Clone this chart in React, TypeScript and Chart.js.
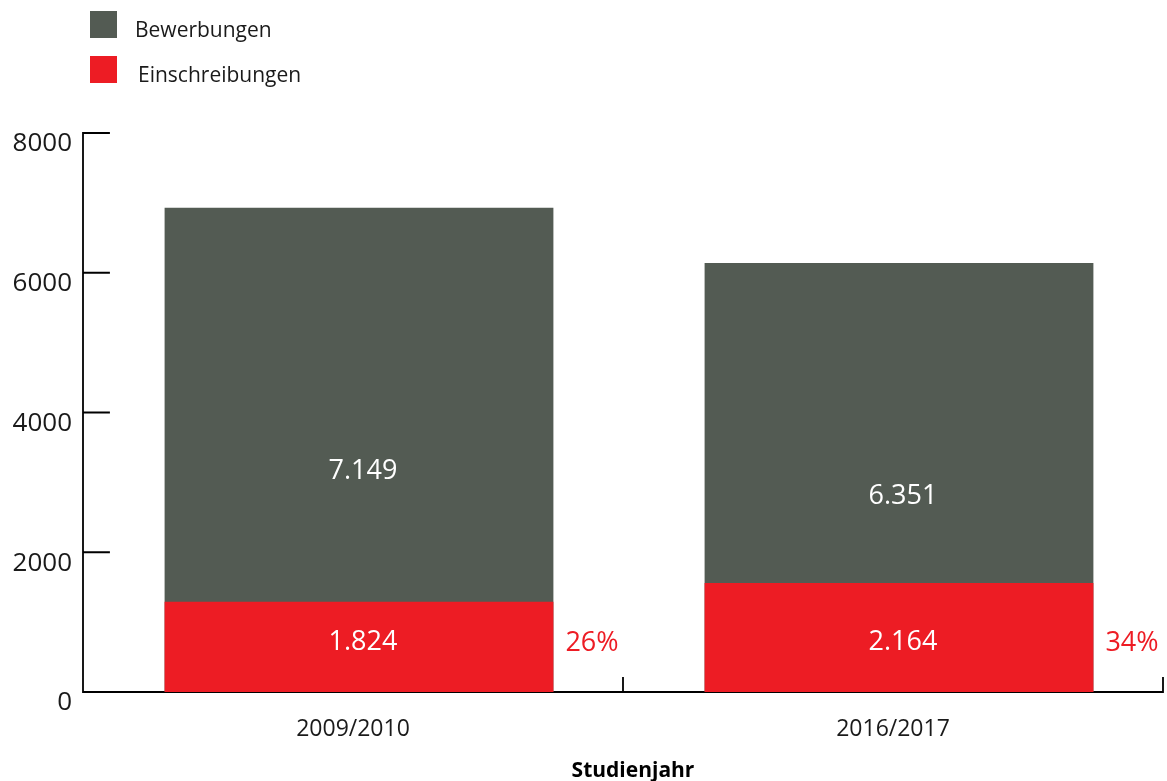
import React, { useEffect, useRef } from 'react';
import { Chart, registerables } from 'chart.js';

Chart.register(...registerables);

const categories = ['2009/2010', '2016/2017'];
const seriesNames = ['Bewerbungen', 'Einschreibungen'];
const bewerbungen = [6930, 6140];
const einschreibungen = [1290, 1560];
const bewerbungenLabels = ['7.149', '6.351'];
const einschreibungenLabels = ['1.824', '2.164'];
const quoteLabels = ['26%', '34%'];
const yMin = 0;
const yMax = 8000;
const yStep = 2000;
const axisTitle = 'Studienjahr';

const GRAY = '#535b53';
const RED = '#ed1c24';
const TEXT = '#1a1a1a';
const FONT = '"Open Sans", "Noto Sans", sans-serif';
const BAR_SHIFT = 6;

const customPlugin = {
  id: 'customDecor',
  beforeDatasetsDraw(chart: any) {
    const { ctx, chartArea: a, scales } = chart;
    const y = scales.y;
    ctx.save();
    ctx.strokeStyle = '#000';
    ctx.lineWidth = 1.8;
    ctx.lineCap = 'square';
    ctx.beginPath();
    ctx.moveTo(a.left, a.top);
    ctx.lineTo(a.left, a.bottom);
    ctx.lineTo(a.right, a.bottom);
    y.ticks.forEach((t: any) => {
      const py = y.getPixelForValue(t.value);
      ctx.moveTo(a.left, py);
      ctx.lineTo(a.left + 26, py);
    });
    const n = categories.length;
    const cw = (a.right - a.left) / n;
    for (let i = 0; i <= n; i++) {
      const px = a.left + i * cw;
      ctx.moveTo(px, a.bottom);
      ctx.lineTo(px, a.bottom - 14);
    }
    ctx.stroke();
    ctx.restore();
    ctx.save();
    ctx.translate(BAR_SHIFT, 0);
  },
  afterDatasetsDraw(chart: any) {
    chart.ctx.restore();
  },
  afterDraw(chart: any) {
    const { ctx, chartArea: a } = chart;
    ctx.save();
    const redMeta = chart.getDatasetMeta(0);
    const grayMeta = chart.getDatasetMeta(1);
    ctx.font = `27px ${FONT}`;
    ctx.textBaseline = 'middle';
    categories.forEach((_, i) => {
      const g = grayMeta.data[i].getProps(['x', 'y', 'base', 'width'], true);
      const r = redMeta.data[i].getProps(['x', 'y', 'base', 'width'], true);
      ctx.fillStyle = '#ffffff';
      ctx.textAlign = 'center';
      ctx.fillText(bewerbungenLabels[i], g.x + BAR_SHIFT + 4, g.y + (g.base - g.y) * 0.545);
      ctx.fillText(einschreibungenLabels[i], r.x + BAR_SHIFT + 4, r.base - 50);
      ctx.fillStyle = RED;
      ctx.textAlign = 'left';
      ctx.fillText(quoteLabels[i], r.x + BAR_SHIFT + r.width / 2 + 12, r.base - 49);
    });
    const legendColors = [GRAY, RED];
    const legendTops = [11, 56];
    ctx.font = `21px ${FONT}`;
    ctx.textBaseline = 'alphabetic';
    ctx.textAlign = 'left';
    seriesNames.forEach((name, i) => {
      ctx.fillStyle = legendColors[i];
      ctx.fillRect(90, legendTops[i], 27, 27);
      ctx.fillStyle = TEXT;
      ctx.fillText(name, i === 0 ? 135 : 138, legendTops[i] + 26);
    });
    ctx.font = `bold 21px ${FONT}`;
    ctx.textAlign = 'center';
    ctx.fillStyle = '#000';
    ctx.fillText(axisTitle, (a.left + a.right) / 2 + 10, 777);
    ctx.restore();
  },
};

export default function App() {
  const ref = useRef<HTMLCanvasElement>(null);
  useEffect(() => {
    if (!ref.current) return;
    const chart = new Chart(ref.current, {
      type: 'bar',
      data: {
        labels: categories,
        datasets: [
          {
            label: seriesNames[1],
            data: einschreibungen,
            backgroundColor: RED,
            order: 0,
            barPercentage: 0.72,
            categoryPercentage: 1,
          },
          {
            label: seriesNames[0],
            data: bewerbungen,
            backgroundColor: GRAY,
            order: 1,
            barPercentage: 0.72,
            categoryPercentage: 1,
          },
        ],
      },
      options: {
        responsive: false,
        animation: false,
        events: [],
        layout: { padding: { top: 133, right: 4, left: 0, bottom: 0 } },
        plugins: {
          legend: { display: false },
          tooltip: { enabled: false },
          title: { display: false },
        },
        scales: {
          x: {
            stacked: true,
            offset: true,
            grid: { display: false, drawTicks: false },
            border: { display: false },
            ticks: {
              font: { family: FONT, size: 23 },
              color: TEXT,
              padding: 24,
              maxRotation: 0,
            },
            afterFit: (s: any) => {
              s.height = 89;
            },
          },
          y: {
            stacked: false,
            min: yMin,
            max: yMax,
            grid: { display: false, drawTicks: false },
            border: { display: false },
            ticks: {
              stepSize: yStep,
              font: { family: FONT, size: 26 },
              color: TEXT,
              padding: 11,
              labelOffset: 11,
              callback: (v: any) => String(v),
            },
            afterFit: (s: any) => {
              s.width = 83;
            },
          },
        },
      },
      plugins: [customPlugin],
    });
    return () => chart.destroy();
  }, []);
  return (
    <div style={{ position: 'fixed', left: 0, top: 0, width: 1167, height: 781, background: '#fff' }}>
      <canvas ref={ref} width={1167} height={781} style={{ display: 'block' }} />
    </div>
  );
}
